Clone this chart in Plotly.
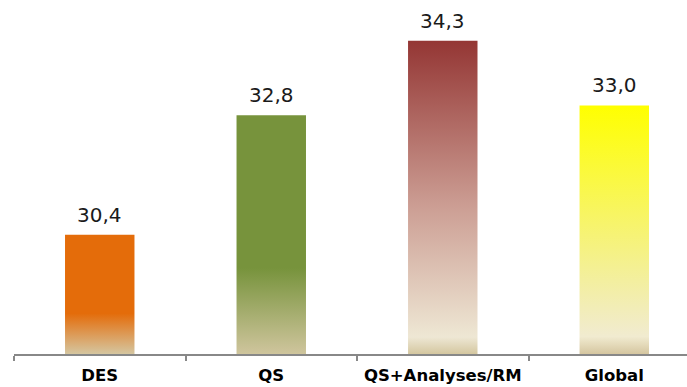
import plotly.graph_objects as go

# Average score per group
categories = ["DES", "QS", "QS+Analyses/RM", "Global"]
values = [30.4, 32.8, 34.3, 33.0]
value_labels = ["30,4", "32,8", "34,3", "33,0"]

# Vertical fill gradients per bar (0 = baseline, 1 = bar top)
gradients = [
    [[0.0, "#D5C6A0"], [0.34, "#E46C0A"], [1.0, "#E46C0A"]],
    [[0.0, "#CFC59D"], [0.36, "#77933C"], [1.0, "#77933C"]],
    [[0.0, "#D4C7A0"], [0.054, "#EEE7D4"], [0.47, "#CC9E94"], [1.0, "#943634"]],
    [[0.0, "#D5C6A0"], [0.07, "#F1EBD0"], [0.30, "#F3EF9E"], [1.0, "#FFFF00"]],
]

y_min, y_max = 28.0, 35.0
bar_width = 0.405
font_family = "DejaVu Sans, Verdana, sans-serif"

fig = go.Figure()

for i, (cat, v, cs) in enumerate(zip(categories, values, gradients)):
    x0, x1 = i - bar_width / 2, i + bar_width / 2
    fig.add_trace(go.Scatter(
        x=[x0, x1, x1, x0, x0],
        y=[y_min, y_min, v, v, y_min],
        mode="lines",
        line=dict(width=0),
        fill="toself",
        fillgradient=dict(type="vertical", colorscale=cs, start=y_min, stop=v),
        name=cat,
        hoverinfo="skip",
        showlegend=False,
    ))

for i, (v, lbl) in enumerate(zip(values, value_labels)):
    fig.add_annotation(
        x=i, y=v, text=lbl, showarrow=False,
        yanchor="bottom", yshift=6,
        font=dict(family=font_family, size=20, color="#1a1a1a"),
    )

fig.update_layout(
    width=687, height=387,
    margin=dict(l=14, r=0, t=6, b=33),
    paper_bgcolor="white",
    plot_bgcolor="white",
    showlegend=False,
    xaxis=dict(
        range=[-0.5, 3.424],
        tickmode="array",
        tickvals=list(range(len(categories))),
        ticktext=[f"<b>{c}</b>" for c in categories],
        ticks="",
        ticklabelstandoff=5,
        automargin=False,
        tickfont=dict(family=font_family, size=16.5, color="black"),
        showline=True, linecolor="#888888", linewidth=2,
        showgrid=False, zeroline=False,
        minor=dict(tickmode="array", tickvals=[-0.5, 0.5, 1.5, 2.5, 3.5],
                   ticks="outside", ticklen=5, tickwidth=2, tickcolor="#888888",
                   showgrid=False),
        fixedrange=True,
    ),
    yaxis=dict(
        range=[y_min, y_max],
        visible=False,
        showgrid=False, zeroline=False,
        automargin=False,
        fixedrange=True,
    ),
)

fig.write_html("out.html")
